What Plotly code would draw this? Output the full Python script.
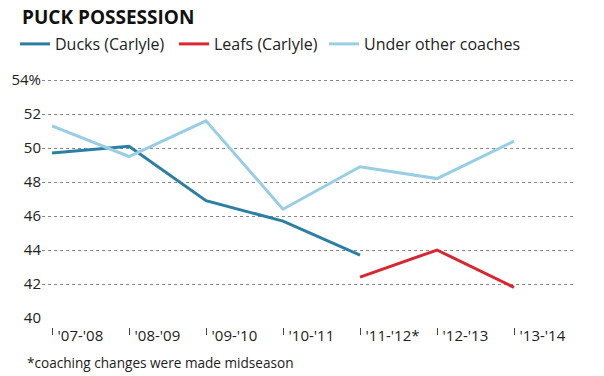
import plotly.graph_objects as go

seasons = ["'07-'08", "'08-'09", "'09-'10", "'10-'11", "'11-'12*", "'12-'13", "'13-'14"]
ducks = [49.7, 50.1, 46.9, 45.7, 43.7, None, None]
leafs = [None, None, None, None, 42.4, 44.0, 41.8]
others = [51.3, 49.5, 51.6, 46.4, 48.9, 48.2, 50.4]
y_ticks = [40, 42, 44, 46, 48, 50, 52, 54]
y_ticktext = ["40", "42", "44", "46", "48", "50", "52", "54%"]

x = list(range(len(seasons)))
FONT = "Open Sans"

W, H = 604, 376
L, R, T, B = 42, 28, 78, 49
def px_x(px):
    return (px - L) / (W - L - R)
def px_y(py):
    return (H - B - py) / (H - T - B)

fig = go.Figure()
fig.add_trace(go.Scatter(x=x, y=ducks, mode="lines", name="Ducks (Carlyle)",
                         line=dict(color="#2a7fa2", width=3), legend="legend"))
fig.add_trace(go.Scatter(x=x, y=leafs, mode="lines", name="Leafs (Carlyle)",
                         line=dict(color="#d92630", width=3), legend="legend2"))
fig.add_trace(go.Scatter(x=x, y=others, mode="lines", name="Under other coaches",
                         line=dict(color="#98cde6", width=3), legend="legend3"))

leg_common = dict(orientation="h", xref="container", yref="container", xanchor="left",
                  yanchor="middle", font=dict(family=FONT, size=16, color="#222"),
                  bgcolor="rgba(0,0,0,0)")
fig.update_layout(
    width=W, height=H, showlegend=True,
    margin=dict(l=L, r=R, t=T, b=B, autoexpand=False),
    paper_bgcolor="white", plot_bgcolor="white",
    font=dict(family=FONT, color="#222"),
    title=dict(text="<b>PUCK POSSESSION</b>", x=22/W, xanchor="left", xref="container",
               y=1-17/H, yanchor="middle", yref="container", automargin=False,
               font=dict(family=FONT, size=19, color="#111")),
    legend=dict(x=(23-8)/W, y=1-44/H, **leg_common),
    legend2=dict(x=(182-8)/W, y=1-44/H, **leg_common),
    legend3=dict(x=(332-8)/W, y=1-44/H, **leg_common),
    xaxis=dict(range=[-0.13, 6.805], tickmode="array", tickvals=x, ticktext=seasons,
               showgrid=False, zeroline=False, showline=False,
               ticks="outside", ticklen=7, tickwidth=1, tickcolor="#444",
               ticklabelposition="outside right", ticklabelshift=5, ticklabelstandoff=-5,
               anchor="free", position=0,
               tickfont=dict(family=FONT, size=15, color="#222")),
    yaxis=dict(range=[40, 54 + 2/17], domain=[9/(H - T - B), 1], tickmode="array",
               tickvals=y_ticks, ticktext=y_ticktext, showgrid=True, gridcolor="#888",
               griddash="dot", gridwidth=1, zeroline=False, showline=False, ticks="",
               tickfont=dict(family=FONT, size=15, color="#222")),
    annotations=[dict(text="*coaching changes were made midseason", xref="paper",
                      yref="paper", x=px_x(25), y=px_y(362), xanchor="left",
                      yanchor="middle", showarrow=False,
                      font=dict(family=FONT, size=13.6, color="#222"))],
)
fig.write_html("out.html", config={"displayModeBar": False},
               post_script="document.body.style.margin='0';document.body.style.overflow='hidden';")
